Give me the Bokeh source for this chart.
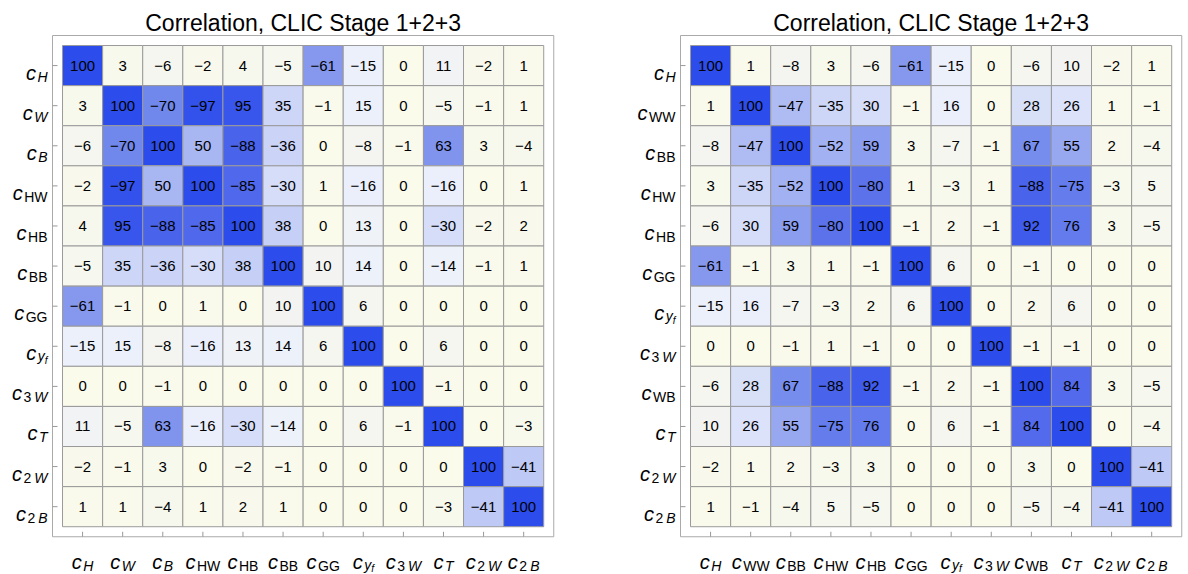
import numpy as np
from bokeh.plotting import figure
from bokeh.models import ColumnDataSource
from bokeh.layouts import row
from bokeh.embed import file_html
from bokeh.resources import INLINE
from bokeh.core.properties import value

TITLE = "Correlation, CLIC Stage 1+2+3"

left_params = ["c_H", "c_W", "c_B", "c_HW", "c_HB", "c_BB", "c_GG", "c_yf", "c_3W", "c_T", "c_2W", "c_2B"]
right_params = ["c_H", "c_WW", "c_BB", "c_HW", "c_HB", "c_GG", "c_yf", "c_3W", "c_WB", "c_T", "c_2W", "c_2B"]

left_corr = [
    [100, 3, -6, -2, 4, -5, -61, -15, 0, 11, -2, 1],
    [3, 100, -70, -97, 95, 35, -1, 15, 0, -5, -1, 1],
    [-6, -70, 100, 50, -88, -36, 0, -8, -1, 63, 3, -4],
    [-2, -97, 50, 100, -85, -30, 1, -16, 0, -16, 0, 1],
    [4, 95, -88, -85, 100, 38, 0, 13, 0, -30, -2, 2],
    [-5, 35, -36, -30, 38, 100, 10, 14, 0, -14, -1, 1],
    [-61, -1, 0, 1, 0, 10, 100, 6, 0, 0, 0, 0],
    [-15, 15, -8, -16, 13, 14, 6, 100, 0, 6, 0, 0],
    [0, 0, -1, 0, 0, 0, 0, 0, 100, -1, 0, 0],
    [11, -5, 63, -16, -30, -14, 0, 6, -1, 100, 0, -3],
    [-2, -1, 3, 0, -2, -1, 0, 0, 0, 0, 100, -41],
    [1, 1, -4, 1, 2, 1, 0, 0, 0, -3, -41, 100],
]

right_corr = [
    [100, 1, -8, 3, -6, -61, -15, 0, -6, 10, -2, 1],
    [1, 100, -47, -35, 30, -1, 16, 0, 28, 26, 1, -1],
    [-8, -47, 100, -52, 59, 3, -7, -1, 67, 55, 2, -4],
    [3, -35, -52, 100, -80, 1, -3, 1, -88, -75, -3, 5],
    [-6, 30, 59, -80, 100, -1, 2, -1, 92, 76, 3, -5],
    [-61, -1, 3, 1, -1, 100, 6, 0, -1, 0, 0, 0],
    [-15, 16, -7, -3, 2, 6, 100, 0, 2, 6, 0, 0],
    [0, 0, -1, 1, -1, 0, 0, 100, -1, -1, 0, 0],
    [-6, 28, 67, -88, 92, -1, 2, -1, 100, 84, 3, -5],
    [10, 26, 55, -75, 76, 0, 6, -1, 84, 100, 0, -4],
    [-2, 1, 2, -3, 3, 0, 0, 0, 3, 0, 100, -41],
    [1, -1, -4, 5, -5, 0, 0, 0, -5, -4, -41, 100],
]

# ---------------- styling ----------------
FONT = "Liberation Sans"
PX = 40.1          # pixels per cell
PAD = 0.25         # box padding around the grid, in cell units
C_SIZE = 20
S_SIZE = 14
FIG_H = 574

# subscript segments: (text, style, size, extra baseline drop px, gap before px)
SUB = {
    "c_H": [("H", "italic", S_SIZE, 4, 0)],
    "c_W": [("W", "italic", S_SIZE, 4, 0)],
    "c_B": [("B", "italic", S_SIZE, 4, 0)],
    "c_T": [("T", "italic", S_SIZE, 4, 0)],
    "c_HW": [("HW", "normal", S_SIZE, 4, 0)],
    "c_HB": [("HB", "normal", S_SIZE, 4, 0)],
    "c_BB": [("BB", "normal", S_SIZE, 4, 0)],
    "c_GG": [("GG", "normal", S_SIZE, 4, 0)],
    "c_WW": [("WW", "normal", S_SIZE, 4, 0)],
    "c_WB": [("WB", "normal", S_SIZE, 4, 0)],
    "c_yf": [("y", "italic", S_SIZE, 3, 0), ("f", "italic", 10, 7, 0)],
    "c_3W": [("3", "normal", S_SIZE, 4, 0), ("W", "italic", S_SIZE, 4, 3)],
    "c_2W": [("2", "normal", S_SIZE, 4, 0), ("W", "italic", S_SIZE, 4, 3)],
    "c_2B": [("2", "normal", S_SIZE, 4, 0), ("B", "italic", S_SIZE, 4, 3)],
}
ADV = {"c": 500, "H": 722, "W": 944, "B": 667, "T": 611, "G": 778,
       "y": 500, "f": 278, "2": 556, "3": 556}

STOPS = [(0, (250, 251, 235)), (5, (246, 247, 238)), (10, (243, 244, 242)),
         (15, (236, 240, 251)), (30, (213, 221, 248)), (35, (205, 214, 247)),
         (50, (168, 182, 242)), (61, (133, 152, 238)), (70, (112, 135, 236)),
         (85, (80, 104, 235)), (100, (44, 77, 235))]


def cell_color(v):
    a = abs(v)
    for (x0, c0), (x1, c1) in zip(STOPS[:-1], STOPS[1:]):
        if a <= x1:
            t = (a - x0) / (x1 - x0)
            c = [round(c0[k] + t * (c1[k] - c0[k])) for k in range(3)]
            return "#%02x%02x%02x" % tuple(c)
    return "#%02x%02x%02x" % STOPS[-1][1]


def w(text, size):
    return sum(ADV.get(ch, 556) for ch in text) * size / 1000.0


def label_pieces(key, xd, yd, align, out):
    segs = [("c", "italic", C_SIZE, 0, 0)] + SUB[key]
    total = 0.0
    for i, (t, st, sz, dy, gap) in enumerate(segs):
        total += gap + w(t, sz) + (1.5 if i == 0 else 0)
    cur = -total if align == "right" else -total / 2.0
    for i, (t, st, sz, dy, gap) in enumerate(segs):
        cur += gap
        out["x"].append(xd + cur / PX)
        out["y"].append(yd + dy / PX)
        out["t"].append(t)
        out["st"].append(st)
        out["sz"].append(f"{sz}px")
        cur += w(t, sz) + (1.5 if i == 0 else 0)


def make_panel(params, corr, fig_w, box_left_px):
    n = len(params)
    x0 = -PAD - box_left_px / PX
    y0 = -PAD - 35 / PX
    p = figure(width=fig_w, height=FIG_H,
               x_range=(x0, x0 + fig_w / PX), y_range=(y0 + FIG_H / PX, y0),
               x_axis_type=None, y_axis_type=None,
               min_border=0, min_border_left=0, min_border_right=0,
               min_border_top=0, min_border_bottom=0,
               output_backend="svg", toolbar_location=None, tools="")
    p.grid.visible = False
    p.outline_line_color = None
    p.background_fill_color = "white"
    p.border_fill_color = "white"

    # frame box around the grid
    p.rect(x=[n / 2.0], y=[n / 2.0], width=n + 2 * PAD, height=n + 2 * PAD,
           fill_color=None, line_color="#aaaaaa", line_width=1)

    # inward ticks on left and bottom edges
    ticks = [i + 0.5 for i in range(n)]
    tl = 5 / PX
    p.segment(x0=ticks, x1=ticks, y0=[n + PAD] * n, y1=[n + PAD - tl] * n,
              line_color="#999999", line_width=1)
    p.segment(x0=[-PAD] * n, x1=[-PAD + tl] * n, y0=ticks, y1=ticks,
              line_color="#999999", line_width=1)

    xs, ys, cols, txt = [], [], [], []
    for i in range(n):
        for j in range(n):
            v = corr[i][j]
            xs.append(j + 0.5)
            ys.append(i + 0.5)
            cols.append(cell_color(v))
            txt.append(str(v).replace("-", "\u2212"))
    src = ColumnDataSource(dict(x=xs, y=ys, c=cols, t=txt))
    p.rect(x="x", y="y", width=1, height=1, source=src, fill_color="c",
           line_color="#9a9a9a", line_width=1)
    p.text(x="x", y="y", text="t", source=src, text_align="center",
           text_baseline="middle", text_font=value(FONT),
           text_font_size="15px", text_color="black")

    lab = dict(x=[], y=[], t=[], st=[], sz=[])
    for i, key in enumerate(params):
        label_pieces(key, -PAD - 5 / PX, i + 0.5 + 7 / PX, "right", lab)
        label_pieces(key, i + 0.5, n + PAD + 25 / PX, "center", lab)
    p.text(x="x", y="y", text="t", source=ColumnDataSource(lab),
           text_font=value(FONT), text_font_style="st", text_font_size="sz",
           text_color="black", text_align="left", text_baseline="alphabetic")

    p.text(x=[n / 2.0], y=[-PAD - 13 / PX], text=[TITLE],
           text_font=value(FONT), text_font_size="23px", text_color="black",
           text_align="center", text_baseline="alphabetic")
    return p


p1 = make_panel(left_params, left_corr, 600, 52)
p2 = make_panel(right_params, right_corr, 588, 80)
layout = row(p1, p2)

open("out.html", "w").write(file_html(layout, INLINE))
